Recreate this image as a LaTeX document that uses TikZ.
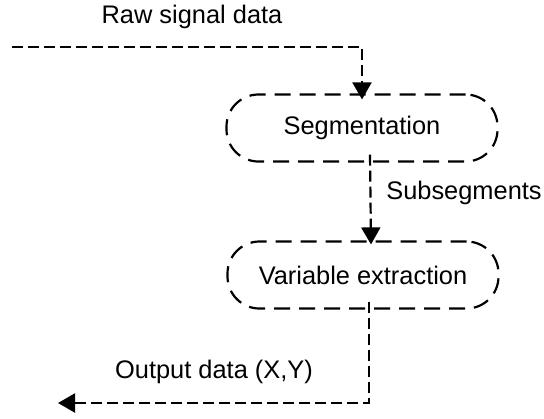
\documentclass[tikz,border=0pt]{standalone}
\usepackage{fontspec}
\setmainfont{Liberation Sans}
\usetikzlibrary{positioning,arrows.meta}

\begin{document}
\begin{tikzpicture}[x=0.5pt,y=-0.5pt,
  font=\fontsize{12.7}{15}\selectfont,
  proc/.style={draw,line width=1.1pt,dash pattern=on 8pt off 4.5pt,rounded corners=16pt,minimum width=135.5pt,minimum height=33.5pt},
  flow/.style={line width=1.1pt,dash pattern=on 5.5pt off 2.5pt,-{Triangle[length=8.5pt,width=9.5pt]}},
  lbl/.style={inner sep=0pt}]
\useasboundingbox (0,0) rectangle (544,418);
% steps
\node[proc] (seg) at (362,128) {Segmentation};
\node[proc] (var) at (363,275) {Variable extraction};
% free ends
\coordinate (in) at (12,47);
\coordinate (out) at (58,403);
% flows
\draw[flow] (in) -| ([yshift=-3pt]seg.north);
\draw[flow] ([shift={(4pt,4pt)}]seg.south) -- ([shift={(4pt,-2pt)}]var.north);
\draw[flow] ([shift={(3pt,4pt)}]var.south) |- (out);
% labels
\node[lbl] (raw) at (192,17) {Raw signal data};
\node[lbl] (sub) at (464,193) {Subsegments};
\node[lbl] (res) at (214,372) {Output data (X,Y)};
\end{tikzpicture}
\end{document}
